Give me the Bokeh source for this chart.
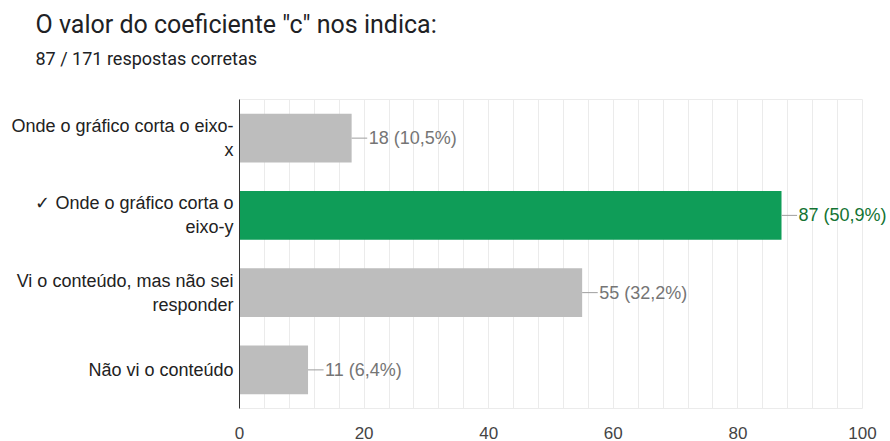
from bokeh.plotting import figure
from bokeh.models import (FactorRange, Range1d, SingleIntervalTicker, Title, ColumnDataSource,
                          LabelSet, LinearAxis)
from bokeh.core.properties import value
from bokeh.embed import file_html
from bokeh.resources import INLINE

categories = ["Onde o gráfico corta o eixo-\nx",
              "✓ Onde o gráfico corta o\neixo-y",
              "Vi o conteúdo, mas não sei\nresponder",
              "Não vi o conteúdo"]
counts = [18, 87, 55, 11]
total = 171
bar_colors = ["#bdbdbd", "#0f9d58", "#bdbdbd", "#bdbdbd"]
label_colors = ["#757575", "#137333", "#757575", "#757575"]

labels = ["%d (%s%%)" % (c, ("%.1f" % (100.0 * c / total)).replace(".", ",")) for c in counts]

src = ColumnDataSource(dict(
    cat=categories, val=counts, color=bar_colors, lcolor=label_colors, label=labels,
    lend=[c + 2.5 for c in counts],
))

CHART_FONT = "Liberation Sans"
X_MAX = 100
# frame extends past 100 so that the right-most value label is not clipped
X_END = X_MAX * (890 - 239) / (862 - 239)

p = figure(width=890, height=441, output_backend="svg", toolbar_location=None,
           y_range=FactorRange(factors=list(reversed(categories)), range_padding=0),
           x_range=Range1d(0, X_END),
           min_border_left=239, min_border_right=0, min_border_bottom=31, min_border_top=98)

top_axis = LinearAxis(bounds=(0, X_MAX), axis_line_color="#ebebeb", major_tick_line_color=None,
                      minor_tick_line_color=None, major_label_text_font_size="0px",
                      major_label_text_color=None, major_label_standoff=0,
                      major_tick_out=0, minor_tick_out=0)
p.add_layout(top_axis, "above")

# spacer (white on white) between the plot frame and the subtitle
spacer = Title(text=".", text_font_size="10px", text_color="#ffffff", standoff=21)
p.add_layout(spacer, "above")

sub = Title(text="87 / 171 respostas corretas", text_font="Roboto", text_font_size="18px",
            text_font_style="normal", text_color="#202124", align="left", offset=-204, standoff=0)
main = Title(text='O valor do coeficiente "c" nos indica:', text_font="Roboto", text_font_size="25px",
             text_font_style="normal", text_color="#202124", align="left", offset=-204, standoff=14)
p.add_layout(sub, "above")
p.add_layout(main, "above")

p.hbar(y="cat", right="val", left=0, height=0.63, color="color", source=src, line_color=None)
p.segment(x0="val", y0="cat", x1="lend", y1="cat", line_color="#9e9e9e", line_width=1, source=src)
p.add_layout(LabelSet(x="val", y="cat", text="label", text_color="lcolor", text_font_size="18px",
                      text_font=value(CHART_FONT), x_offset=17, text_baseline="middle",
                      text_align="left", source=src))

p.xaxis[0].ticker = SingleIntervalTicker(interval=20, num_minor_ticks=2)
bottom = p.below[0]
bottom.bounds = (0, X_MAX)
bottom.axis_line_color = "#ebebeb"
bottom.major_tick_line_color = None
bottom.minor_tick_line_color = None
bottom.major_label_text_font = CHART_FONT
bottom.major_label_text_font_size = "17px"
bottom.major_label_text_color = "#444444"
bottom.major_label_standoff = 12

p.yaxis.axis_line_color = "#333333"
p.yaxis.major_tick_line_color = None
p.yaxis.minor_tick_line_color = None
p.yaxis.major_label_text_font = CHART_FONT
p.yaxis.major_label_text_font_size = "18px"
p.yaxis.major_label_text_color = "#222222"
p.yaxis.major_label_standoff = 0

p.xgrid.grid_line_color = "#ebebeb"
p.xgrid.minor_grid_line_color = "#ebebeb"
p.xgrid.bounds = (0, X_MAX)
p.ygrid.grid_line_color = None
p.outline_line_color = None

open("out.html", "w").write(file_html(p, INLINE))
